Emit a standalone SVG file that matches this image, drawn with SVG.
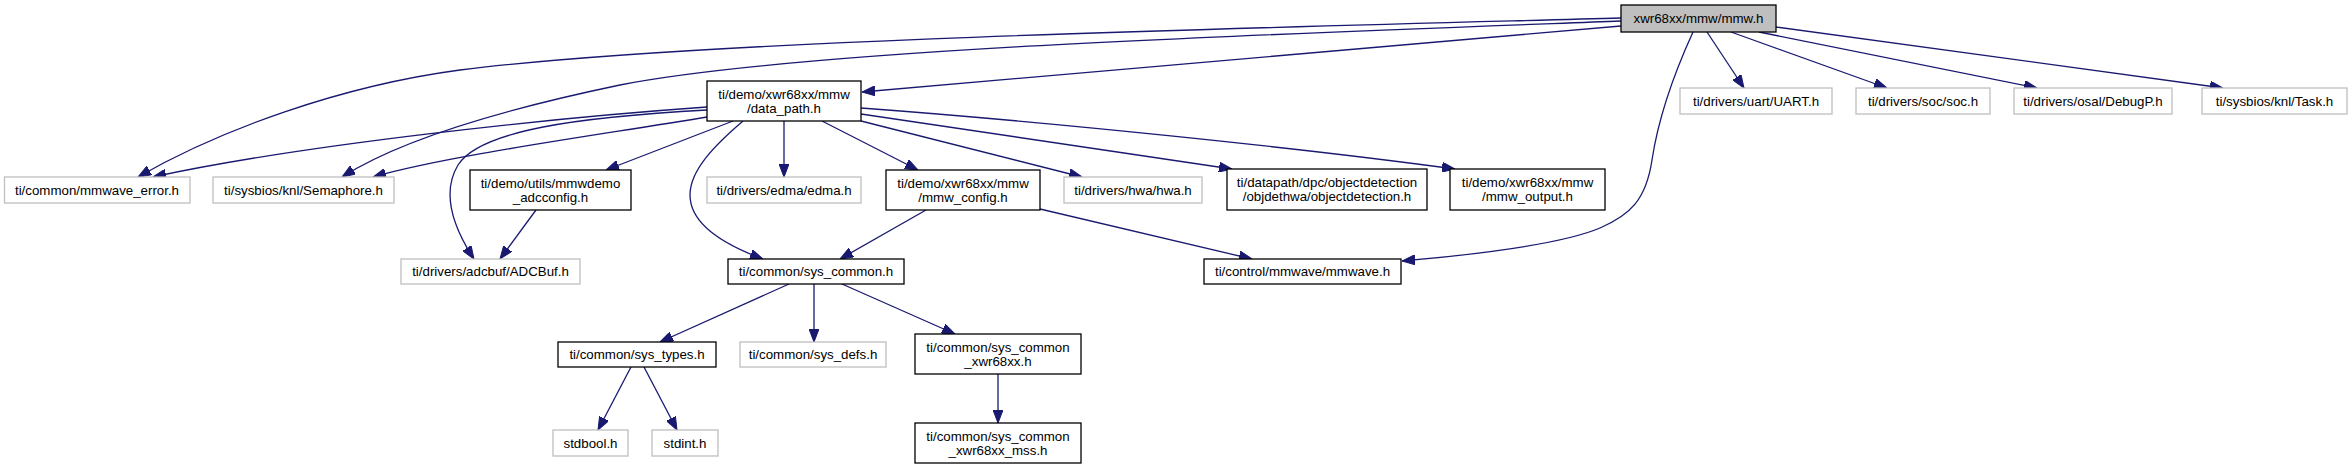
<svg xmlns="http://www.w3.org/2000/svg" width="2349" height="469" viewBox="0 0 2349 469">
<style>
.n rect{fill:#ffffff;stroke:#000000;stroke-width:1.3}
.g rect{fill:#ffffff;stroke:#bfbfbf;stroke-width:1.3}
.root rect{fill:#bfbfbf;stroke:#000000;stroke-width:1.3}
text{font-family:"Liberation Sans",Arial,sans-serif;font-size:13.3px;fill:#000000;text-anchor:middle}
#edges path{fill:none;stroke:#191970;stroke-width:1.3;marker-end:url(#ah)}
</style>
<defs>
<marker id="ah" viewBox="0 0 13 10" refX="13" refY="5" markerWidth="13" markerHeight="10" orient="auto" markerUnits="userSpaceOnUse">
<path d="M0,0 L13,5 L0,10 z" fill="#191970" stroke="#191970" stroke-width="1"/>
</marker>
</defs>
<rect x="0" y="0" width="2349" height="469" fill="#ffffff"/>
<g id="edges">
<path d="M1707,32 L1744,88"/>
<path d="M1731,32 L1887,88"/>
<path d="M1759,32 L2037,88"/>
<path d="M1776,27 L2223,88"/>
<path d="M1693,32 C1672,78 1658,120 1652,160 C1646,200 1630,215 1600,228 C1560,245 1470,255 1402,261"/>
<path d="M1621,26 L862,92"/>
<path d="M1621,18 C1250,28 700,40 460,70 C340,86 220,130 138,177"/>
<path d="M1621,21 C1250,35 800,50 620,85 C500,110 400,140 342,177"/>
<path d="M707,107 C550,118 300,145 153,177"/>
<path d="M707,117 C600,135 450,155 373,177"/>
<path d="M707,110 C580,117 480,130 458,165 C440,195 455,230 474,259"/>
<path d="M733,121 L606,170"/>
<path d="M784,121 L784,177"/>
<path d="M743,121 C715,145 690,170 690,195 C690,225 725,245 763,259"/>
<path d="M822,121 L918,170"/>
<path d="M861,121 L1082,177"/>
<path d="M861,114 L1232,169"/>
<path d="M861,108 C1050,122 1300,148 1455,169"/>
<path d="M536,210 L500,259"/>
<path d="M926,210 L840,259"/>
<path d="M1040,209 L1252,259"/>
<path d="M789,284 L660,342"/>
<path d="M814,284 L814,342"/>
<path d="M842,284 L955,334"/>
<path d="M631,367 L598,430"/>
<path d="M644,367 L677,430"/>
<path d="M998,374 L998,423"/>
</g>
<g id="mmw_h" class="root"><rect x="1621" y="5" width="155" height="27"/><text x="1698.5" y="23">xwr68xx/mmw/mmw.h</text></g>
<g id="uart_h" class="g"><rect x="1680" y="88" width="152" height="26"/><text x="1756" y="105.5">ti/drivers/uart/UART.h</text></g>
<g id="soc_h" class="g"><rect x="1856" y="88" width="134" height="26"/><text x="1923" y="105.5">ti/drivers/soc/soc.h</text></g>
<g id="debugp_h" class="g"><rect x="2014" y="88" width="158" height="26"/><text x="2093" y="105.5">ti/drivers/osal/DebugP.h</text></g>
<g id="task_h" class="g"><rect x="2202" y="88" width="145" height="26"/><text x="2274.5" y="105.5">ti/sysbios/knl/Task.h</text></g>
<g id="data_path_h" class="n"><rect x="707" y="81" width="154" height="40"/><text x="784" y="98.5">ti/demo/xwr68xx/mmw</text><text x="784" y="112.5">/data_path.h</text></g>
<g id="mmwave_error_h" class="g"><rect x="4.5" y="177" width="185.5" height="26"/><text x="97" y="194.5">ti/common/mmwave_error.h</text></g>
<g id="semaphore_h" class="g"><rect x="213" y="177" width="181" height="26"/><text x="303.5" y="194.5">ti/sysbios/knl/Semaphore.h</text></g>
<g id="adcconfig_h" class="n"><rect x="470" y="170" width="161" height="40"/><text x="550.5" y="187.5">ti/demo/utils/mmwdemo</text><text x="550.5" y="201.5">_adcconfig.h</text></g>
<g id="edma_h" class="g"><rect x="707" y="177" width="154" height="26"/><text x="784" y="194.5">ti/drivers/edma/edma.h</text></g>
<g id="mmw_config_h" class="n"><rect x="886" y="170" width="154" height="40"/><text x="963" y="187.5">ti/demo/xwr68xx/mmw</text><text x="963" y="201.5">/mmw_config.h</text></g>
<g id="hwa_h" class="g"><rect x="1064" y="177" width="138" height="26"/><text x="1133" y="194.5">ti/drivers/hwa/hwa.h</text></g>
<g id="objectdetection_h" class="n"><rect x="1227" y="169" width="200" height="41"/><text x="1327" y="187">ti/datapath/dpc/objectdetection</text><text x="1327" y="201">/objdethwa/objectdetection.h</text></g>
<g id="mmw_output_h" class="n"><rect x="1450" y="169" width="155" height="41"/><text x="1527.5" y="187">ti/demo/xwr68xx/mmw</text><text x="1527.5" y="201">/mmw_output.h</text></g>
<g id="adcbuf_h" class="g"><rect x="401" y="259" width="179" height="25"/><text x="490.5" y="276">ti/drivers/adcbuf/ADCBuf.h</text></g>
<g id="sys_common_h" class="n"><rect x="728" y="259" width="176" height="25"/><text x="816" y="276">ti/common/sys_common.h</text></g>
<g id="mmwave_h" class="n"><rect x="1204" y="259" width="197" height="25"/><text x="1302.5" y="276">ti/control/mmwave/mmwave.h</text></g>
<g id="sys_types_h" class="n"><rect x="558" y="342" width="158" height="25"/><text x="637" y="359">ti/common/sys_types.h</text></g>
<g id="sys_defs_h" class="g"><rect x="740" y="342" width="146" height="25"/><text x="813" y="359">ti/common/sys_defs.h</text></g>
<g id="sys_common_xwr68xx_h" class="n"><rect x="915" y="334" width="166" height="40"/><text x="998" y="351.5">ti/common/sys_common</text><text x="998" y="365.5">_xwr68xx.h</text></g>
<g id="stdbool_h" class="g"><rect x="553" y="430" width="75" height="26"/><text x="590.5" y="447.5">stdbool.h</text></g>
<g id="stdint_h" class="g"><rect x="652" y="430" width="66" height="26"/><text x="685" y="447.5">stdint.h</text></g>
<g id="sys_common_xwr68xx_mss_h" class="n"><rect x="915" y="423" width="166" height="40"/><text x="998" y="440.5">ti/common/sys_common</text><text x="998" y="454.5">_xwr68xx_mss.h</text></g>
</svg>
